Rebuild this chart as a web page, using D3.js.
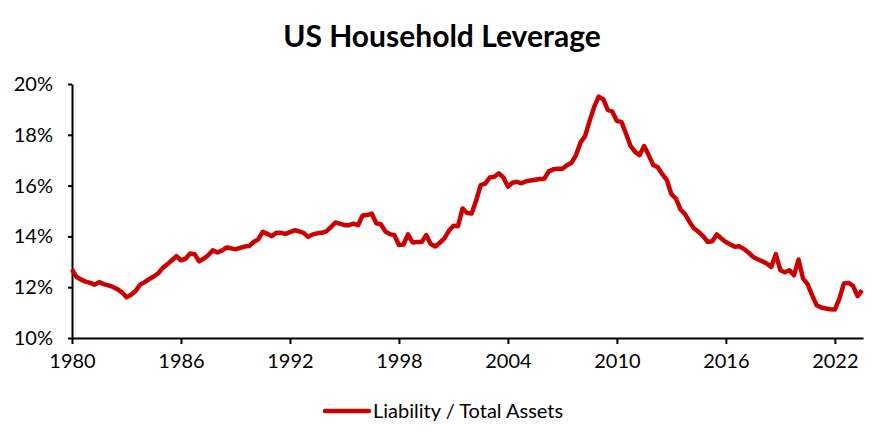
<!DOCTYPE html>
<html>
<head>
<meta charset="utf-8">
<script src="https://cdn.jsdelivr.net/npm/d3@7"></script>
<style>
  body { margin: 0; background: #fff; }
  text { font-family: Lato, "Open Sans", sans-serif; fill: #000; }
</style>
</head>
<body>
<div id="chart"></div>
<script>
// quarterly, 1980Q1 .. 2023Q3, liability / total assets in %
const firstYear = 1980;
const leverage = [
  12.70, 12.40, 12.30, 12.22,  // 1980
  12.17, 12.10, 12.20, 12.12,
  12.07, 12.01, 11.92, 11.80,
  11.60, 11.70, 11.85, 12.10,
  12.20, 12.32, 12.42, 12.55,
  12.76, 12.90, 13.06, 13.22,  // 1985
  13.06, 13.12, 13.33, 13.30,
  13.02, 13.12, 13.26, 13.45,
  13.37, 13.44, 13.56, 13.53,
  13.49, 13.55, 13.60, 13.62,
  13.78, 13.88, 14.18, 14.10,  // 1990
  14.01, 14.14, 14.14, 14.10,
  14.17, 14.24, 14.20, 14.14,
  13.98, 14.08, 14.12, 14.14,
  14.20, 14.36, 14.55, 14.50,
  14.44, 14.44, 14.50, 14.44,  // 1995
  14.82, 14.84, 14.90, 14.52,
  14.48, 14.20, 14.09, 14.05,
  13.66, 13.68, 14.08, 13.76,
  13.78, 13.78, 14.05, 13.70,
  13.60, 13.75, 13.92, 14.22,  // 2000
  14.42, 14.40, 15.10, 14.92,
  14.90, 15.40, 16.02, 16.08,
  16.32, 16.35, 16.48, 16.32,
  15.96, 16.11, 16.15, 16.09,
  16.17, 16.20, 16.23, 16.26,  // 2005
  16.27, 16.56, 16.64, 16.66,
  16.66, 16.80, 16.90, 17.20,
  17.70, 17.95, 18.55, 19.10,
  19.50, 19.40, 18.98, 18.91,
  18.54, 18.51, 18.05, 17.56,  // 2010
  17.33, 17.20, 17.56, 17.20,
  16.81, 16.72, 16.45, 16.22,
  15.66, 15.49, 15.06, 14.88,
  14.57, 14.31, 14.18, 14.01,
  13.78, 13.81, 14.08, 13.92,  // 2015
  13.78, 13.68, 13.59, 13.61,
  13.50, 13.36, 13.19, 13.10,
  13.02, 12.93, 12.80, 13.30,
  12.67, 12.59, 12.67, 12.47,
  13.09, 12.34, 12.12, 11.68,  // 2020
  11.29, 11.20, 11.16, 11.13,
  11.12, 11.55, 12.15, 12.17,
  12.05, 11.65, 11.88
];
const xTicks = [1980, 1986, 1992, 1998, 2004, 2010, 2016, 2022];
const yTicks = [10, 12, 14, 16, 18, 20];
const title = "US Household Leverage";
const seriesName = "Liability / Total Assets";

const width = 886, height = 443;
const margin = { top: 84, right: 23, bottom: 105, left: 72 };
const lineColor = "#cc0000";

const data = leverage.map((v, i) => ({ t: firstYear + i / 4, v: v }));

const svg = d3.select("#chart").append("svg")
  .attr("width", width)
  .attr("height", height);

const x = d3.scaleLinear()
  .domain([firstYear, d3.max(data, d => d.t) + 0.05])
  .range([margin.left, width - margin.right]);

const y = d3.scaleLinear()
  .domain([10, 20])
  .range([height - margin.bottom, margin.top]);

svg.append("text")
  .attr("x", width / 2 - 1)
  .attr("y", 47)
  .attr("text-anchor", "middle")
  .style("font-size", "30px")
  .style("font-weight", "bold")
  .text(title);

const xAxis = svg.append("g")
  .attr("transform", `translate(0,${y(10)})`)
  .call(d3.axisBottom(x).tickValues(xTicks).tickFormat(d3.format("d")).tickSize(6).tickSizeOuter(0));
xAxis.selectAll("text").style("font-size", "20px").attr("dy", "1.05em");

const yAxis = svg.append("g")
  .attr("transform", `translate(${margin.left},0)`)
  .call(d3.axisLeft(y).tickValues(yTicks).tickFormat(d => d + "%").tickSize(4).tickSizeOuter(0));
yAxis.selectAll("text").style("font-size", "20px").attr("x", -19);

svg.selectAll(".domain, .tick line")
  .attr("stroke", "#000")
  .attr("stroke-width", 2);

const line = d3.line()
  .x(d => x(d.t))
  .y(d => y(d.v));

svg.append("path")
  .datum(data)
  .attr("fill", "none")
  .attr("stroke", lineColor)
  .attr("stroke-width", 4.5)
  .attr("stroke-linejoin", "round")
  .attr("d", line);

const legend = svg.append("g").attr("transform", "translate(325,411)");
legend.append("line")
  .attr("x1", 0).attr("x2", 44)
  .attr("stroke", lineColor)
  .attr("stroke-width", 4.5)
  .attr("stroke-linecap", "round");
legend.append("text")
  .attr("x", 48)
  .attr("dy", "0.35em")
  .style("font-size", "20px")
  .text(seriesName);
</script>
</body>
</html>
